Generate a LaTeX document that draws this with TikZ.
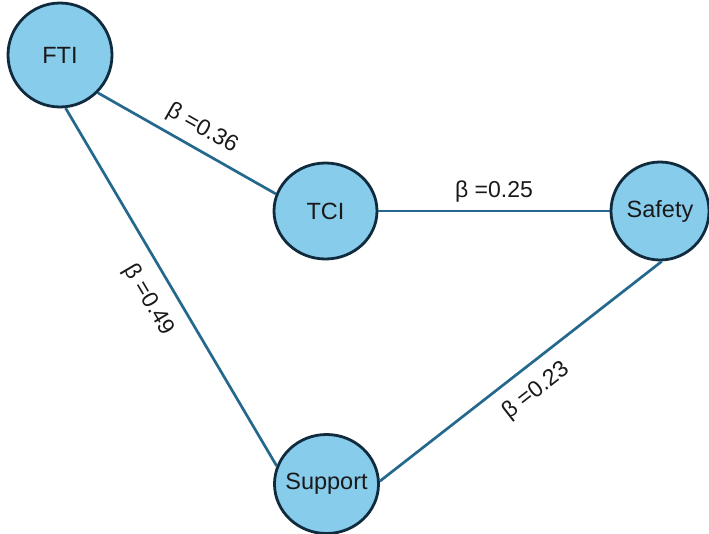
\documentclass[tikz,border=0pt]{standalone}
\usepackage{fontspec}
\setmainfont{Liberation Sans}
\usetikzlibrary{shapes.geometric}
\definecolor{ballfill}{HTML}{88CCEB}
\definecolor{balledge}{HTML}{0F2B3D}
\definecolor{linkcol}{HTML}{24698D}
\begin{document}
\begin{tikzpicture}[x=1pt,y=-1pt,
  ball/.style={ellipse, draw=balledge, fill=ballfill, line width=2.8pt, inner sep=0pt,
    font=\fontsize{23.5}{28}\selectfont, text=black!90},
  link/.style={draw=linkcol, line width=2.7pt},
  lab/.style={font=\fontsize{23}{28}\selectfont, sloped, inner sep=2pt, text=black!90}]
\useasboundingbox (0,0) rectangle (709,533);
\fill[white] (0,0) rectangle (709,533);
\node[ball, minimum width=104pt, minimum height=104pt] (FTI) at (60,55) {\makebox[0pt]{FTI}};
\node[ball, minimum width=103pt, minimum height=96pt] (TCI) at (325.5,211) {\makebox[0pt]{TCI}};
\node[ball, minimum width=98pt, minimum height=98pt] (Safety) at (660,211) {\makebox[0pt]{Safety}};
\node[ball, minimum width=104pt, minimum height=99pt] (Support) at (326.5,484) {\makebox[0pt]{Support}};
\draw[link] (FTI.-45) -- node[lab, pos=0.53, above=6pt] {β =0.36} (TCI.161);
\draw[link] (TCI.east) -- node[lab, pos=0.5, above=5.5pt] {β =0.25} (Safety.west);
\draw[link] (FTI.-84) -- node[lab, pos=0.5, below=12pt] {β =0.49} (Support.160);
\draw[link] (Support.3) -- node[lab, pos=0.5, below=11pt] {β =0.23} (Safety.-88);
\end{tikzpicture}
\end{document}
